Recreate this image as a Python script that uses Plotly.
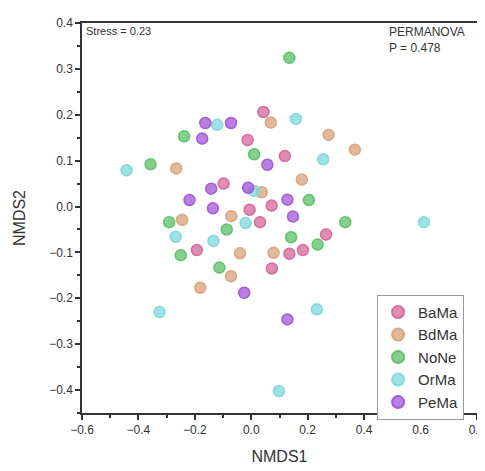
import plotly.graph_objects as go

groups = ["BaMa", "BdMa", "NoNe", "OrMa", "PeMa"]
colors = {"BaMa": "#D4679A", "BdMa": "#D9A27A", "NoNe": "#5CC06A",
          "OrMa": "#7ED8DC", "PeMa": "#A055D6"}

bama_x = [0.043, -0.013, 0.119, -0.098, -0.006, 0.072, 0.031, 0.265, 0.183, 0.135, 0.073, -0.193]
bama_y = [0.206, 0.145, 0.110, 0.050, -0.007, 0.002, -0.034, -0.061, -0.095, -0.103, -0.135, -0.095]

bdma_x = [0.069, 0.274, 0.367, -0.266, 0.179, 0.037, -0.245, -0.071, -0.040, 0.079, -0.072, -0.181]
bdma_y = [0.183, 0.156, 0.124, 0.083, 0.059, 0.031, -0.029, -0.021, -0.102, -0.101, -0.152, -0.177]

none_x = [0.135, -0.238, 0.010, -0.357, 0.204, -0.291, -0.087, 0.141, 0.333, 0.235, -0.250, -0.113]
none_y = [0.324, 0.153, 0.114, 0.092, 0.014, -0.034, -0.050, -0.067, -0.034, -0.083, -0.106, -0.133]

orma_x = [-0.121, 0.158, -0.442, 0.255, 0.010, -0.020, 0.612, -0.268, -0.134, -0.325, 0.232, 0.098]
orma_y = [0.178, 0.191, 0.079, 0.103, 0.034, -0.036, -0.034, -0.066, -0.075, -0.230, -0.224, -0.402]

pema_x = [-0.163, -0.072, -0.174, 0.057, -0.142, -0.011, -0.219, 0.128, -0.136, 0.148, -0.025, 0.128]
pema_y = [0.182, 0.182, 0.148, 0.091, 0.039, 0.041, 0.014, 0.015, -0.004, -0.022, -0.188, -0.246]

data = {
    "BaMa": (bama_x, bama_y),
    "BdMa": (bdma_x, bdma_y),
    "NoNe": (none_x, none_y),
    "OrMa": (orma_x, orma_y),
    "PeMa": (pema_x, pema_y),
}

stress_text = "Stress = 0.23"
perm_text = "PERMANOVA<br>P = 0.478"


def rgba(hexc, a):
    h = hexc.lstrip("#")
    r, g, b = int(h[0:2], 16), int(h[2:4], 16), int(h[4:6], 16)
    return f"rgba({r},{g},{b},{a})"


fig = go.Figure()
for g in groups:
    xs, ys = data[g]
    fig.add_trace(go.Scatter(
        x=xs, y=ys, mode="markers", name=g,
        marker=dict(size=11, color=rgba(colors[g], 0.75),
                    line=dict(color=rgba(colors[g], 0.95), width=1.5)),
    ))

font_family = "Liberation Sans, Arial, sans-serif"
axis_common = dict(
    showline=True, linecolor="#333333", linewidth=1.5, mirror=True,
    ticks="outside", ticklen=5, tickwidth=1.5, tickcolor="#333333",
    showgrid=False, zeroline=False, automargin=False,
    tickfont=dict(size=12, color="#333333", family=font_family),
    tickformat=".1f",
)

fig.update_xaxes(
    range=[-0.6, 0.8], dtick=0.2, tick0=0,
    minor=dict(ticks="outside", ticklen=3, tickwidth=1.5, dtick=0.1, tickcolor="#333333"),
    title=dict(text="NMDS1", font=dict(size=16, color="#333333", family=font_family), standoff=15),
    **axis_common,
)
fig.update_yaxes(
    range=[-0.45, 0.4], dtick=0.1, tick0=0,
    minor=dict(ticks="outside", ticklen=3, tickwidth=1.5, dtick=0.05, tickcolor="#333333"),
    title=dict(text="NMDS2", font=dict(size=16, color="#333333", family=font_family), standoff=20),
    **axis_common,
)

fig.add_annotation(
    x=0.005, y=1.0, xref="paper", yref="paper", xanchor="left", yanchor="top",
    text=stress_text, showarrow=False,
    font=dict(size=11, color="#333333", family=font_family),
)
fig.add_annotation(
    x=0.772, y=1.0, xref="paper", yref="paper", xanchor="left", yanchor="top",
    text=perm_text, showarrow=False, align="left",
    font=dict(size=12, color="#333333", family=font_family),
)

fig.update_layout(
    width=485, height=471,
    margin=dict(l=74, r=16, t=15, b=66),
    paper_bgcolor="white", plot_bgcolor="white",
    font=dict(family=font_family, color="#333333"),
    legend=dict(
        x=0.747, y=0.303, xanchor="left", yanchor="top",
        bordercolor="#999999", borderwidth=1, bgcolor="white",
        font=dict(size=15, color="#333333", family=font_family),
        itemsizing="constant",
    ),
    showlegend=True,
)

fig.write_html("out.html")
